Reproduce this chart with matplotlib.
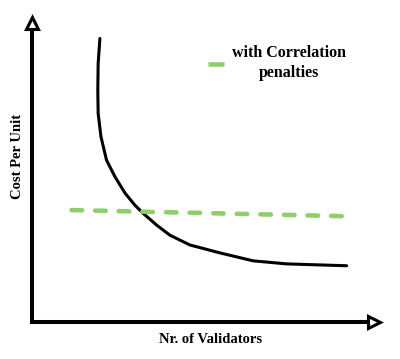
import matplotlib
matplotlib.use("Agg")
import matplotlib.pyplot as plt
from matplotlib.lines import Line2D

plt.rcParams['font.family'] = ['Liberation Serif', 'DejaVu Serif']
plt.rcParams['font.weight'] = 'bold'
plt.rcParams['axes.labelweight'] = 'bold'

# cost curve without correlation penalties
curve_x = [1.94, 1.89, 1.88, 1.89, 1.97, 2.13, 2.37, 2.66, 2.94, 3.18, 3.56,
           3.94, 4.51, 5.37, 6.32, 7.28, 8.99]
curve_y = [9.27, 8.45, 7.58, 6.82, 6.06, 5.29, 4.75, 4.21, 3.82, 3.55, 3.17,
           2.84, 2.52, 2.26, 2.00, 1.90, 1.84]

# with correlation penalties: almost flat
penalty_x = [1.13, 8.92]
penalty_y = [3.66, 3.46]

penalty_label = "with Correlation\npenalties"
x_label = "Nr. of Validators"
y_label = "Cost Per Unit"

green = '#8fcf6a'

fig = plt.figure(figsize=(4, 3.59), dpi=100)
ax = fig.add_axes([0.08, 0.103, 0.875, 0.852])
ax.set_xlim(0, 10)
ax.set_ylim(0, 10)
ax.set_xticks([])
ax.set_yticks([])
for s in ax.spines.values():
    s.set_visible(False)

# hand drawn style axes with open arrow heads
ax.plot([0, 0], [-0.05, 9.6], color='black', lw=2.9, solid_capstyle='butt', clip_on=False)
ax.plot([-0.04, 9.6], [0, 0], color='black', lw=2.9, solid_capstyle='butt', clip_on=False)
ax.plot([0], [9.78], marker='^', ms=9, mfc='white', mec='black', mew=2.2, clip_on=False)
ax.plot([9.78], [0], marker='>', ms=9, mfc='white', mec='black', mew=2.2, clip_on=False)

ax.plot(curve_x, curve_y, color='black', lw=2.2, solid_capstyle='round',
        solid_joinstyle='round', clip_on=False)
ax.plot(penalty_x, penalty_y, color=green, lw=3.3, dashes=(2.3, 2.85),
        dash_capstyle='round', clip_on=False)

handle = Line2D([], [], color=green, lw=3.3, solid_capstyle='butt')
leg = ax.legend([handle], [penalty_label], loc='center', bbox_to_anchor=(0.70, 0.846),
                frameon=False, fontsize=11.5, handlelength=1.0, handletextpad=0.5,
                borderpad=0, borderaxespad=0)
for t in leg.get_texts():
    t.set_multialignment('center')
    t.set_linespacing(1.3)

ax.set_xlabel(x_label, fontsize=10.5)
ax.set_ylabel(y_label, fontsize=10.5)
ax.xaxis.set_label_coords(0.509, -0.036)
ax.yaxis.set_label_coords(-0.023, 0.541)

fig.savefig('out.png', dpi=100)
